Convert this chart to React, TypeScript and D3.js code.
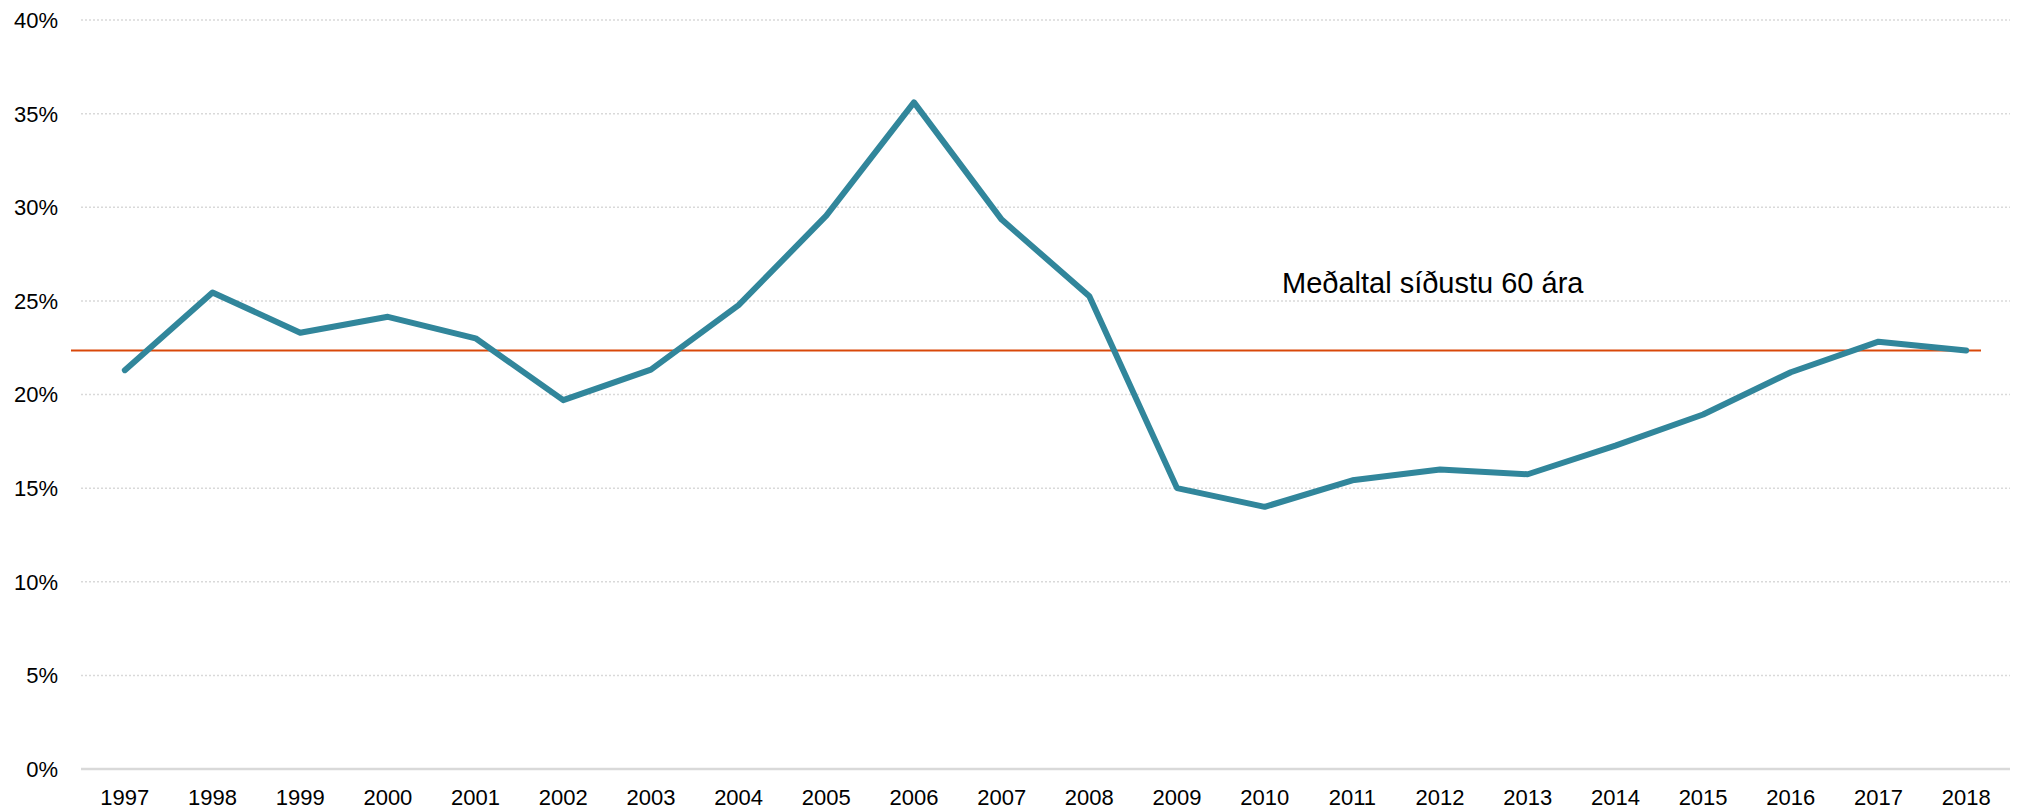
import React from "react";
import * as d3 from "d3";

// ár og hlutfall
const years = [
  "1997", "1998", "1999", "2000", "2001", "2002", "2003", "2004", "2005", "2006", "2007",
  "2008", "2009", "2010", "2011", "2012", "2013", "2014", "2015", "2016", "2017", "2018",
];
const values = [
  21.3, 25.45, 23.3, 24.15, 23.0, 19.7, 21.33, 24.77, 29.55, 35.6, 29.34,
  25.25, 15.0, 14.0, 15.42, 15.99, 15.74, 17.27, 18.93, 21.19, 22.82, 22.35,
];
const average = 22.35;
const yTicks = [0, 5, 10, 15, 20, 25, 30, 35, 40];
const annotation = "Meðaltal síðustu 60 ára";

const W = 2017;
const H = 811;
const margin = { left: 81, right: 7, top: 20, bottom: 42 };

const App = () => {
  const x = d3.scaleBand()
    .domain(years)
    .range([margin.left, W - margin.right]);
  const y = d3.scaleLinear()
    .domain([0, 40])
    .range([H - margin.bottom, margin.top]);

  const cx = (yr: string) => (x(yr) as number) + x.bandwidth() / 2;

  const line = d3.line<number>()
    .x((d, i) => cx(years[i]))
    .y(d => y(d));

  const font = "'Liberation Sans', Arial, sans-serif";

  return (
    <div style={{ position: "absolute", left: 0, top: 0 }}>
      <svg width={W} height={H} style={{ display: "block", background: "#fff" }}>
        {/* grid */}
        {yTicks.filter(t => t > 0).map(t => (
          <line key={t} x1={margin.left} x2={W - margin.right} y1={y(t)} y2={y(t)}
            stroke="#d9d9d9" strokeWidth={1.5} strokeDasharray="2,2" />
        ))}
        <line x1={margin.left} x2={W - margin.right} y1={y(0)} y2={y(0)}
          stroke="#d9d9d9" strokeWidth={2.5} />

        {/* y axis labels */}
        {yTicks.map(t => (
          <text key={t} x={58} y={y(t)} dy="0.36em" textAnchor="end"
            fontFamily={font} fontSize={22} fill="#000">{t}%</text>
        ))}

        {/* x axis labels */}
        {years.map(yr => (
          <text key={yr} x={cx(yr)} y={805} textAnchor="middle"
            fontFamily={font} fontSize={22} fill="#000">{yr}</text>
        ))}

        {/* average line */}
        <line x1={71} x2={1981} y1={y(average)} y2={y(average)}
          stroke="#d9480a" strokeWidth={2} />

        {/* series */}
        <path d={line(values) as string} fill="none" stroke="#31869b"
          strokeWidth={6} strokeLinejoin="round" strokeLinecap="round" />

        <text x={1282} y={293} fontFamily={font} fontSize={29} fill="#000">{annotation}</text>
      </svg>
    </div>
  );
};

export default App;
